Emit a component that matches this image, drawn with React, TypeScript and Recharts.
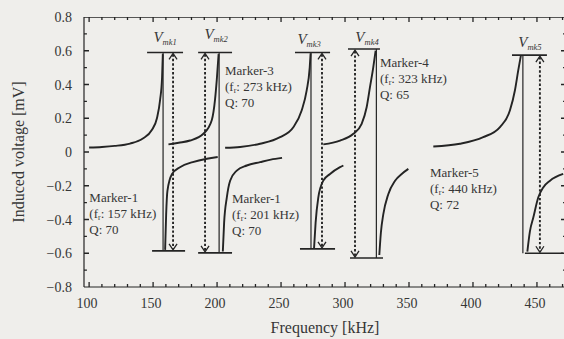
import { LineChart, Line, XAxis, YAxis, ReferenceLine, ReferenceDot } from 'recharts';

const SERIF = '"Liberation Serif", "DejaVu Serif", "Times New Roman", serif';
const INK = '#242424';
const TEXT = '#363636';
const PAPER = '#efeeeb';

// frequency sweeps around each marker, [frequency kHz, induced voltage mV]
const mk1Rise = [[100, 0.027], [110, 0.03], [120, 0.036], [132, 0.05], [142, 0.08], [149, 0.13], [153, 0.2], [155.5, 0.31], [157, 0.44], [157.6, 0.58]];
const mk1Fall = [[159.4, -0.58], [160.2, -0.37], [161.2, -0.23], [164.8, -0.13], [171, -0.09], [181, -0.06], [192, -0.04], [200.5, -0.03]];
const mk2Rise = [[162, 0.045], [170, 0.055], [178.9, 0.068], [189.3, 0.108], [195.9, 0.19], [198.4, 0.31], [199.8, 0.43], [201.2, 0.58]];
const mk2Fall = [[204.5, -0.59], [205.5, -0.42], [207.6, -0.27], [210.2, -0.17], [215.4, -0.11], [223.2, -0.08], [233.6, -0.06], [242, -0.045], [250.8, -0.035]];
const mk3Rise = [[206.3, 0.025], [218, 0.03], [233.6, 0.049], [249.2, 0.088], [259.6, 0.147], [266.1, 0.246], [270, 0.364], [272.4, 0.5], [273.1, 0.585]];
const mk3Fall = [[275.8, -0.57], [277, -0.42], [279.1, -0.27], [283, -0.17], [288.3, -0.13], [296.1, -0.09], [298.7, -0.08]];
const mk4Rise = [[283, 0.045], [296.1, 0.068], [306.5, 0.108], [313, 0.167], [316.9, 0.265], [319.5, 0.384], [322.1, 0.503], [323.9, 0.6]];
const mk4Fall = [[326.8, -0.61], [328, -0.48], [329.9, -0.37], [333.8, -0.25], [339.1, -0.17], [344.3, -0.13], [349.5, -0.1]];
const mk5Rise = [[369, 0.033], [389.8, 0.049], [408, 0.088], [421.1, 0.148], [428.9, 0.247], [432.8, 0.366], [435.4, 0.485], [437.5, 0.574]];
const mk5Fall = [[442.5, -0.59], [444.5, -0.47], [447.1, -0.39], [451, -0.27], [454.9, -0.21], [460.2, -0.17], [470.5, -0.13]];

const sweeps = [mk1Rise, mk1Fall, mk2Rise, mk2Fall, mk3Rise, mk3Fall, mk4Rise, mk4Fall, mk5Rise, mk5Fall];

// measured markers: drop line, level bars and the V_mk span arrow
const markerIds = ['mk1', 'mk2', 'mk3', 'mk4', 'mk5'];
const dropKHz = [157.8, 201.6, 273.4, 324.5, 439];
const levelTop = [0.59, 0.59, 0.59, 0.61, 0.574];
const levelBottom = [-0.586, -0.598, -0.574, -0.628, -0.6];
const topBarKHz = [[145.3, 173.4], [185.2, 211.7], [260.9, 288.3], [302.3, 327.3], [430.5, 457.8]];
const bottomBarKHz = [[149.2, 175], [185.2, 211.7], [264.8, 292.2], [303.9, 329.7], [440.6, 470.3]];
const spanKHz = [165.6, 190.6, 282, 307.8, 452.3];
const vLabelAt = [[159.4, 0.679], [199.2, 0.702], [271.9, 0.667], [317.2, 0.679], [444.5, 0.649]];

// marker notes
const noteTitles = ['Marker-1', 'Marker-1', 'Marker-3', 'Marker-4', 'Marker-5'];
const noteFr = ['157', '201', '273', '323', '440'];
const noteQ = ['70', '70', '70', '65', '72'];
const noteAt = [[100.2, -0.27], [211.7, -0.276], [206.2, 0.483], [327.3, 0.53], [366.4, -0.121]];

const xMajorTicks = [100, 150, 200, 250, 300, 350, 400, 450];
const xMinorTicks = [110, 120, 130, 140, 160, 170, 180, 190, 210, 220, 230, 240, 260, 270, 280, 290, 310, 320, 330, 340, 360, 370, 380, 390, 410, 420, 430, 440, 460, 470];
const yMajorTicks = [-0.8, -0.6, -0.4, -0.2, 0, 0.2, 0.4, 0.6, 0.8];
const yTickLabels = ['\u22120.8', '\u22120.6', '\u22120.4', '\u22120.2', '0', '0.2', '0.4', '0.6', '0.8'];
const yMinorTicks = [-0.7, -0.5, -0.3, -0.1, 0.1, 0.3, 0.5, 0.7];

const X_DOMAIN: [number, number] = [96, 472.7];
const Y_DOMAIN: [number, number] = [-0.8, 0.8];

// inward tick lengths in axis units (~5px major, ~3px minor)
const X_TICK_MAJOR = 0.03;
const X_TICK_MINOR = 0.018;
const Y_TICK_MAJOR = 3.9;
const Y_TICK_MINOR = 2.3;

type FramePt = { f: number; v: number | null };

// frame drawn as one broken polyline: top edge, then every inward tick,
// with null points breaking the path between pieces
function buildFrame(): FramePt[] {
  const pts: FramePt[] = [
    { f: X_DOMAIN[0], v: Y_DOMAIN[1] },
    { f: X_DOMAIN[1], v: Y_DOMAIN[1] },
    { f: X_DOMAIN[1], v: null },
  ];
  const xTicks = [
    ...xMajorTicks.map(f => ({ f, len: X_TICK_MAJOR })),
    ...xMinorTicks.map(f => ({ f, len: X_TICK_MINOR })),
  ];
  xTicks.forEach(({ f, len }) => {
    pts.push({ f, v: Y_DOMAIN[0] }, { f, v: Y_DOMAIN[0] + len }, { f, v: null });
    pts.push({ f, v: Y_DOMAIN[1] }, { f, v: Y_DOMAIN[1] - len }, { f, v: null });
  });
  const yTicks = [
    ...yMajorTicks.filter(v => Math.abs(v) < 0.8).map(v => ({ v, len: Y_TICK_MAJOR })),
    ...yMinorTicks.map(v => ({ v, len: Y_TICK_MINOR })),
  ];
  yTicks.forEach(({ v, len }) => {
    pts.push({ f: X_DOMAIN[0], v }, { f: X_DOMAIN[0] + len, v }, { f: X_DOMAIN[0] + len, v: null });
    pts.push({ f: X_DOMAIN[1], v }, { f: X_DOMAIN[1] - len, v }, { f: X_DOMAIN[1] - len, v: null });
  });
  return pts;
}

const framePoints = buildFrame();

function xTickLabel(props: any) {
  return (
    <text x={props.x - 2} y={props.y + 21} textAnchor="middle" fontFamily={SERIF} fontSize={14} fill={TEXT}>
      {props.payload.value}
    </text>
  );
}

function yTickLabel(props: any) {
  const idx = yMajorTicks.findIndex(m => Math.abs(m - props.payload.value) < 1e-6);
  return (
    <text x={props.x - 12} y={props.y + 5} textAnchor="end" fontFamily={SERIF} fontSize={14} fill={TEXT}>
      {yTickLabels[idx]}
    </text>
  );
}

// dotted span with open arrowheads at both ends
function SpanArrow(props: any) {
  const { x1, y1, y2 } = props;
  const top = Math.min(y1, y2) + 1;
  const bot = Math.max(y1, y2) - 1;
  return (
    <g>
      <line x1={x1} y1={top + 1} x2={x1} y2={bot - 1} stroke={INK} strokeWidth={1.9} strokeDasharray="2.4 2" />
      <polyline points={`${x1 - 4},${top + 6} ${x1},${top} ${x1 + 4},${top + 6}`} fill="none" stroke={INK} strokeWidth={1.3} />
      <polyline points={`${x1 - 4},${bot - 6} ${x1},${bot} ${x1 + 4},${bot - 6}`} fill="none" stroke={INK} strokeWidth={1.3} />
    </g>
  );
}

function vLabel(id: string) {
  return (props: any) => (
    <text x={props.cx} y={props.cy + 5} textAnchor="middle" fontFamily={SERIF} fontStyle="italic" fill={TEXT}>
      <tspan fontSize={15}>V</tspan>
      <tspan fontSize={8.5} dy={3}>{id}</tspan>
    </text>
  );
}

function noteLabel(i: number) {
  return (props: any) => {
    const { cx, cy } = props;
    return (
      <text fontFamily={SERIF} fontSize={13} fill={TEXT}>
        <tspan x={cx} y={cy + 4.5}>{noteTitles[i]}</tspan>
        <tspan x={cx} y={cy + 20.5}>(f</tspan>
        <tspan fontSize={8} dy={2}>r</tspan>
        <tspan dy={-2}>{`: ${noteFr[i]} kHz)`}</tspan>
        <tspan x={cx} y={cy + 36.5}>{`Q: ${noteQ[i]}`}</tspan>
      </text>
    );
  };
}

export default function App() {
  return (
    <div style={{ position: 'absolute', left: 0, top: 0, width: 564, height: 339, overflow: 'hidden', background: PAPER }}>
      <LineChart width={570} height={339} margin={{ top: 17, right: 4, bottom: 0, left: 0 }}>
        <XAxis
          dataKey="f"
          type="number"
          domain={X_DOMAIN}
          allowDataOverflow
          ticks={xMajorTicks}
          interval={0}
          height={52}
          tickSize={0}
          tickMargin={0}
          tickLine={false}
          axisLine={{ stroke: INK, strokeWidth: 1.2 }}
          tick={xTickLabel}
          label={{ value: 'Frequency [kHz]', position: 'insideBottom', offset: 6, fontFamily: SERIF, fontSize: 16, fill: TEXT }}
        />
        <YAxis
          type="number"
          domain={Y_DOMAIN}
          allowDataOverflow
          ticks={yMajorTicks}
          interval={0}
          width={84}
          tickSize={0}
          tickMargin={0}
          tickLine={false}
          axisLine={{ stroke: INK, strokeWidth: 1.2 }}
          tick={yTickLabel}
          label={{
            value: 'Induced voltage [mV]',
            angle: -90,
            position: 'insideLeft',
            offset: 18,
            fontFamily: SERIF,
            fontSize: 16,
            fill: TEXT,
            style: { textAnchor: 'middle' },
          }}
        />

        {sweeps.map((seg, i) => (
          <Line
            key={`sweep-${i}`}
            data={seg.map(([f, v]) => ({ f, v }))}
            dataKey="v"
            type="monotone"
            stroke={INK}
            strokeWidth={1.9}
            dot={false}
            isAnimationActive={false}
          />
        ))}

        {markerIds.map((id, i) => (
          <ReferenceLine
            key={`drop-${id}`}
            segment={[{ x: dropKHz[i], y: levelTop[i] }, { x: dropKHz[i], y: levelBottom[i] }]}
            stroke={INK}
            strokeWidth={1.2}
          />
        ))}
        {markerIds.map((id, i) => (
          <ReferenceLine
            key={`top-${id}`}
            segment={[{ x: topBarKHz[i][0], y: levelTop[i] }, { x: topBarKHz[i][1], y: levelTop[i] }]}
            stroke={INK}
            strokeWidth={1.6}
          />
        ))}
        {markerIds.map((id, i) => (
          <ReferenceLine
            key={`bottom-${id}`}
            segment={[{ x: bottomBarKHz[i][0], y: levelBottom[i] }, { x: bottomBarKHz[i][1], y: levelBottom[i] }]}
            stroke={INK}
            strokeWidth={1.6}
          />
        ))}
        {markerIds.map((id, i) => (
          <ReferenceLine
            key={`span-${id}`}
            segment={[{ x: spanKHz[i], y: levelTop[i] }, { x: spanKHz[i], y: levelBottom[i] }]}
            stroke={INK}
            shape={SpanArrow}
          />
        ))}
        {markerIds.map((id, i) => (
          <ReferenceDot key={`v-${id}`} x={vLabelAt[i][0]} y={vLabelAt[i][1]} r={1} shape={vLabel(id)} />
        ))}
        {noteTitles.map((t, i) => (
          <ReferenceDot key={`note-${i}`} x={noteAt[i][0]} y={noteAt[i][1]} r={1} shape={noteLabel(i)} />
        ))}

        {/* top edge and inward ticks of the frame */}
        <Line
          data={framePoints}
          dataKey="v"
          type="linear"
          stroke={INK}
          strokeWidth={1.3}
          dot={false}
          activeDot={false}
          connectNulls={false}
          isAnimationActive={false}
        />
      </LineChart>
    </div>
  );
}
